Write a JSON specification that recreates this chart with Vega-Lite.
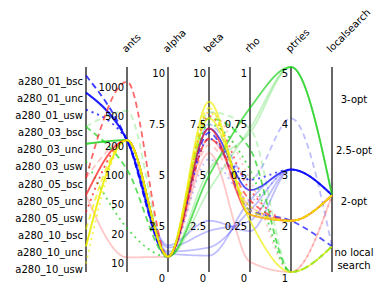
{
  "$schema": "https://vega.github.io/schema/vega-lite/v6.json",
  "width": 382,
  "height": 287,
  "padding": 0,
  "autosize": {"type": "none"},
  "background": "white",
  "config": {"view": {"stroke": null}, "font": "DejaVu Sans"},
  "datasets": {
    "lines": [
      {"id": "B2", "instance": "a280_01_bsc", "ants": 200, "alpha": 0.75, "beta": 7.2, "rho": 0.45, "ptries": 4, "localsearch": "no local search", "rank": 2},
      {"id": "B4", "instance": "a280_01_unc", "ants": 200, "alpha": 1.0, "beta": 1.2, "rho": 0.3, "ptries": 3, "localsearch": "2-opt", "rank": 2},
      {"id": "B5", "instance": "a280_01_unc", "ants": 200, "alpha": 1.2, "beta": 2.0, "rho": 0.25, "ptries": 3, "localsearch": "2-opt", "rank": 2},
      {"id": "B6", "instance": "a280_01_unc", "ants": 200, "alpha": 0.9, "beta": 0.8, "rho": 0.35, "ptries": 3, "localsearch": "2-opt", "rank": 2},
      {"id": "B7", "instance": "a280_01_unc", "ants": 200, "alpha": 1.3, "beta": 2.5, "rho": 0.2, "ptries": 3, "localsearch": "2-opt", "rank": 2},
      {"id": "B9", "instance": "a280_01_usw", "ants": 200, "alpha": 0.75, "beta": 5.5, "rho": 0.35, "ptries": 3, "localsearch": "2-opt", "rank": 2},
      {"id": "G2", "instance": "a280_03_bsc", "ants": 500, "alpha": 0.75, "beta": 7.8, "rho": 0.7, "ptries": 1, "localsearch": "no local search", "rank": 2},
      {"id": "G4", "instance": "a280_03_unc", "ants": 200, "alpha": 0.75, "beta": 4.0, "rho": 0.7, "ptries": 5, "localsearch": "2-opt", "rank": 2},
      {"id": "G5", "instance": "a280_03_unc", "ants": 200, "alpha": 0.75, "beta": 5.0, "rho": 0.68, "ptries": 5, "localsearch": "2-opt", "rank": 2},
      {"id": "R2", "instance": "a280_05_bsc", "ants": 200, "alpha": 0.75, "beta": 6.2, "rho": 0.3, "ptries": 2, "localsearch": "2-opt", "rank": 2},
      {"id": "R4", "instance": "a280_05_unc", "ants": 10, "alpha": 0.75, "beta": 5.8, "rho": 0.05, "ptries": 1, "localsearch": "2-opt", "rank": 2},
      {"id": "R5", "instance": "a280_05_unc", "ants": 200, "alpha": 0.75, "beta": 6.5, "rho": 0.32, "ptries": 2, "localsearch": "2-opt", "rank": 2},
      {"id": "R7", "instance": "a280_05_usw", "ants": 200, "alpha": 0.75, "beta": 7.8, "rho": 0.45, "ptries": 1, "localsearch": "2-opt", "rank": 2},
      {"id": "B1", "instance": "a280_01_bsc", "ants": 200, "alpha": 0.75, "beta": 6.8, "rho": 0.3, "ptries": 2, "localsearch": "no local search", "rank": 1},
      {"id": "B3", "instance": "a280_01_unc", "ants": 200, "alpha": 0.75, "beta": 7.0, "rho": 0.4, "ptries": 3, "localsearch": "2-opt", "rank": 1},
      {"id": "B8", "instance": "a280_01_usw", "ants": 200, "alpha": 0.75, "beta": 6.5, "rho": 0.45, "ptries": 3, "localsearch": "2-opt", "rank": 1},
      {"id": "G1", "instance": "a280_03_bsc", "ants": 100, "alpha": 0.75, "beta": 7.5, "rho": 0.6, "ptries": 1, "localsearch": "no local search", "rank": 1},
      {"id": "G3", "instance": "a280_03_unc", "ants": 200, "alpha": 0.75, "beta": 4.7, "rho": 0.8, "ptries": 5, "localsearch": "2-opt", "rank": 1},
      {"id": "G6", "instance": "a280_03_usw", "ants": 20, "alpha": 0.75, "beta": 7.2, "rho": 0.5, "ptries": 1, "localsearch": "no local search", "rank": 1},
      {"id": "R1", "instance": "a280_05_bsc", "ants": 1000, "alpha": 0.75, "beta": 6.5, "rho": 0.35, "ptries": 2, "localsearch": "2-opt", "rank": 1},
      {"id": "R3", "instance": "a280_05_unc", "ants": 200, "alpha": 0.75, "beta": 7.0, "rho": 0.28, "ptries": 2, "localsearch": "2-opt", "rank": 1},
      {"id": "R6", "instance": "a280_05_usw", "ants": 200, "alpha": 0.75, "beta": 7.6, "rho": 0.4, "ptries": 2, "localsearch": "2-opt", "rank": 1},
      {"id": "Y1", "instance": "a280_10_bsc", "ants": 200, "alpha": 0.75, "beta": 8.0, "rho": 0.3, "ptries": 2, "localsearch": "2-opt", "rank": 1},
      {"id": "Y2", "instance": "a280_10_unc", "ants": 200, "alpha": 0.75, "beta": 8.3, "rho": 0.28, "ptries": 2, "localsearch": "2-opt", "rank": 1},
      {"id": "Y3", "instance": "a280_10_usw", "ants": 200, "alpha": 0.75, "beta": 7.8, "rho": 0.32, "ptries": 2, "localsearch": "2-opt", "rank": 1},
      {"id": "Y4", "instance": "a280_10_unc", "ants": 200, "alpha": 0.75, "beta": 7.5, "rho": 0.25, "ptries": 1, "localsearch": "no local search", "rank": 1}
    ],
    "ticks": [
      {"key": "instance", "value": "a280_01_bsc", "label": "a280_01_bsc"},
      {"key": "instance", "value": "a280_01_unc", "label": "a280_01_unc"},
      {"key": "instance", "value": "a280_01_usw", "label": "a280_01_usw"},
      {"key": "instance", "value": "a280_03_bsc", "label": "a280_03_bsc"},
      {"key": "instance", "value": "a280_03_unc", "label": "a280_03_unc"},
      {"key": "instance", "value": "a280_03_usw", "label": "a280_03_usw"},
      {"key": "instance", "value": "a280_05_bsc", "label": "a280_05_bsc"},
      {"key": "instance", "value": "a280_05_unc", "label": "a280_05_unc"},
      {"key": "instance", "value": "a280_05_usw", "label": "a280_05_usw"},
      {"key": "instance", "value": "a280_10_bsc", "label": "a280_10_bsc"},
      {"key": "instance", "value": "a280_10_unc", "label": "a280_10_unc"},
      {"key": "instance", "value": "a280_10_usw", "label": "a280_10_usw"},
      {"key": "ants", "value": 1000, "label": "1000"},
      {"key": "ants", "value": 500, "label": "500"},
      {"key": "ants", "value": 200, "label": "200"},
      {"key": "ants", "value": 100, "label": "100"},
      {"key": "ants", "value": 50, "label": "50"},
      {"key": "ants", "value": 20, "label": "20"},
      {"key": "ants", "value": 10, "label": "10"},
      {"key": "alpha", "value": 0, "label": "0"},
      {"key": "alpha", "value": 2.5, "label": "2.5"},
      {"key": "alpha", "value": 5, "label": "5"},
      {"key": "alpha", "value": 7.5, "label": "7.5"},
      {"key": "alpha", "value": 10, "label": "10"},
      {"key": "beta", "value": 0, "label": "0"},
      {"key": "beta", "value": 2.5, "label": "2.5"},
      {"key": "beta", "value": 5, "label": "5"},
      {"key": "beta", "value": 7.5, "label": "7.5"},
      {"key": "beta", "value": 10, "label": "10"},
      {"key": "rho", "value": 0, "label": "0"},
      {"key": "rho", "value": 0.25, "label": "0.25"},
      {"key": "rho", "value": 0.5, "label": "0.5"},
      {"key": "rho", "value": 0.75, "label": "0.75"},
      {"key": "rho", "value": 1, "label": "1"},
      {"key": "ptries", "value": 1, "label": "1"},
      {"key": "ptries", "value": 2, "label": "2"},
      {"key": "ptries", "value": 3, "label": "3"},
      {"key": "ptries", "value": 4, "label": "4"},
      {"key": "ptries", "value": 5, "label": "5"},
      {"key": "localsearch", "value": "3-opt", "label": "3-opt"},
      {"key": "localsearch", "value": "2.5-opt", "label": "2.5-opt"},
      {"key": "localsearch", "value": "2-opt", "label": "2-opt"},
      {"key": "localsearch", "value": "no local search", "label": "no local|search"}
    ],
    "axes": [
      {"key": "instance"}, {"key": "ants"}, {"key": "alpha"}, {"key": "beta"},
      {"key": "rho"}, {"key": "ptries"}, {"key": "localsearch"}
    ]
  },
  "layer": [
    {
      "data": {"name": "axes"},
      "mark": {"type": "rule", "color": "black", "strokeWidth": 1.2},
      "encoding": {
        "x": {"field": "key", "type": "nominal", "scale": {"type": "point", "domain": ["instance", "ants", "alpha", "beta", "rho", "ptries", "localsearch"], "range": [86, 332], "padding": 0},
          "axis": {"orient": "top", "offset": -55, "domain": false, "ticks": false, "labelAngle": -45, "labelAlign": "left", "labelBaseline": "bottom", "labelPadding": 1, "labelFontSize": 10, "labelColor": "black", "labelFont": "DejaVu Sans", "title": null, "labelExpr": "datum.value === 'instance' ? '' : datum.value"}},
        "y": {"datum": 0, "type": "quantitative", "scale": {"domain": [0, 1], "range": [272, 67]}, "axis": null},
        "y2": {"datum": 1}
      }
    },
    {
      "data": {"name": "lines"},
      "transform": [
        {"fold": ["instance", "ants", "alpha", "beta", "rho", "ptries", "localsearch"], "as": ["key", "value"]},
        {"calculate": "indexof(['instance','ants','alpha','beta','rho','ptries','localsearch'], datum.key)", "as": "axisIndex"},
        {"calculate": "datum.key === 'instance' ? 1 - (indexof(['a280_01_bsc','a280_01_unc','a280_01_usw','a280_03_bsc','a280_03_unc','a280_03_usw','a280_05_bsc','a280_05_unc','a280_05_usw','a280_10_bsc','a280_10_unc','a280_10_usw'], datum.value) + 0.5) / 12 : datum.key === 'ants' ? 1 - (indexof([1000,500,200,100,50,20,10], datum.value) + 0.5) / 7 : (datum.key === 'alpha' || datum.key === 'beta') ? datum.value / 10 : datum.key === 'rho' ? datum.value : datum.key === 'ptries' ? (datum.value - 1) / 4 : 1 - (indexof(['3-opt','2.5-opt','2-opt','no local search'], datum.value) + 0.5) / 4", "as": "norm"}
      ],
      "mark": {"type": "line", "interpolate": "monotone", "strokeWidth": 1.8, "strokeCap": "butt"},
      "encoding": {
        "x": {"field": "key", "type": "nominal"},
        "y": {"field": "norm", "type": "quantitative"},
        "detail": {"field": "id"},
        "order": {"field": "axisIndex", "type": "quantitative", "sort": "ascending"},
        "color": {"field": "instance", "type": "nominal", "legend": null,
          "scale": {"domain": ["a280_01_bsc","a280_01_unc","a280_01_usw","a280_03_bsc","a280_03_unc","a280_03_usw","a280_05_bsc","a280_05_unc","a280_05_usw","a280_10_bsc","a280_10_unc","a280_10_usw"],
            "range": ["#0000ff","#0000ff","#0000ff","#10d010","#10d010","#10d010","#ff2020","#ff2020","#ff2020","#eeee00","#eeee00","#eeee00"]}},
        "strokeDash": {"field": "instance", "type": "nominal", "legend": null,
          "scale": {"domain": ["a280_01_bsc","a280_01_unc","a280_01_usw","a280_03_bsc","a280_03_unc","a280_03_usw","a280_05_bsc","a280_05_unc","a280_05_usw","a280_10_bsc","a280_10_unc","a280_10_usw"],
            "range": [[6,4],[1,0],[2,4],[6,4],[1,0],[2,4],[6,4],[1,0],[2,4],[6,4],[1,0],[2,4]]}},
        "opacity": {"field": "rank", "type": "ordinal", "legend": null, "scale": {"domain": [1, 2], "range": [0.68, 0.25]}}
      }
    },
    {
      "data": {"name": "ticks"},
      "transform": [
        {"filter": "datum.key !== 'localsearch'"},
        {"calculate": "datum.key === 'instance' ? 1 - (indexof(['a280_01_bsc','a280_01_unc','a280_01_usw','a280_03_bsc','a280_03_unc','a280_03_usw','a280_05_bsc','a280_05_unc','a280_05_usw','a280_10_bsc','a280_10_unc','a280_10_usw'], datum.value) + 0.5) / 12 : datum.key === 'ants' ? 1 - (indexof([1000,500,200,100,50,20,10], datum.value) + 0.5) / 7 : (datum.key === 'alpha' || datum.key === 'beta') ? datum.value / 10 : datum.key === 'rho' ? datum.value : datum.key === 'ptries' ? (datum.value - 1) / 4 : 1 - (indexof(['3-opt','2.5-opt','2-opt','no local search'], datum.value) + 0.5) / 4", "as": "norm"}
      ],
      "mark": {"type": "text", "align": "right", "baseline": "middle", "dx": -3, "dy": 6.5, "fontSize": 10, "font": "DejaVu Sans", "color": "black"},
      "encoding": {
        "x": {"field": "key", "type": "nominal"},
        "y": {"field": "norm", "type": "quantitative"},
        "text": {"field": "label", "type": "nominal"}
      }
    },
    {
      "data": {"name": "ticks"},
      "transform": [
        {"filter": "datum.key === 'localsearch'"},
        {"calculate": "1 - (indexof(['3-opt','2.5-opt','2-opt','no local search'], datum.value) + 0.5) / 4", "as": "norm"}
      ],
      "mark": {"type": "text", "align": "center", "baseline": "top", "dx": 22, "dy": 2, "fontSize": 10, "font": "DejaVu Sans", "color": "black", "lineBreak": "|", "lineHeight": 13},
      "encoding": {
        "x": {"field": "key", "type": "nominal"},
        "y": {"field": "norm", "type": "quantitative"},
        "text": {"field": "label", "type": "nominal"}
      }
    }
  ]
}
